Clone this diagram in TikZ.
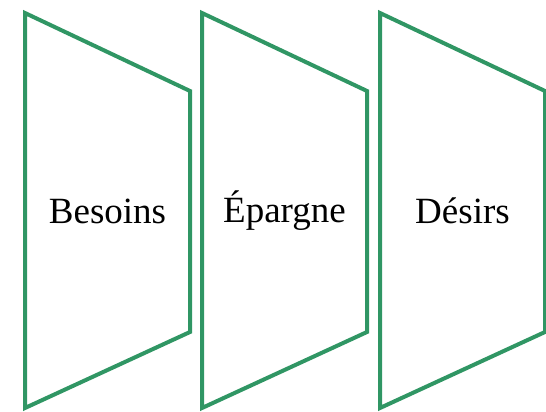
\documentclass[tikz,border=0pt]{standalone}
\usepackage{fontspec}
\setmainfont{Liberation Serif}
\definecolor{panelgreen}{RGB}{48,150,100}

\begin{document}
\begin{tikzpicture}[x=1pt,y=-1pt,font=\fontsize{37}{40}\selectfont,panel/.style={draw=panelgreen,line width=4pt,line join=miter}]
\useasboundingbox (0,0) rectangle (546,412);
\foreach \x/\name/\txt in {25/bes/Besoins,202/epa/Épargne,380/des/Désirs}{
\draw[panel] (\x,13) -- (\x+165,91) -- (\x+165,332) -- (\x,408) -- cycle;
\node (\name) at (\x+82.5,211) {\txt};}
\end{tikzpicture}
\end{document}
